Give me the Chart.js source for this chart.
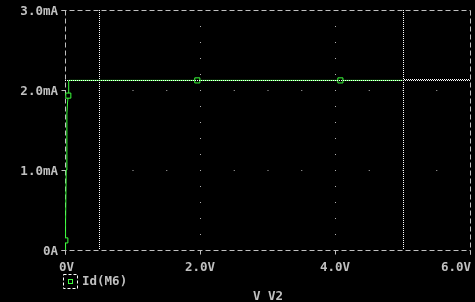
<!DOCTYPE html>
<html>
<head>
<meta charset="utf-8">
<script src="https://cdn.jsdelivr.net/npm/chart.js@4/dist/chart.umd.min.js"></script>
<style>
  html, body { margin: 0; padding: 0; background: #000; }
  canvas { display: block; }
</style>
</head>
<body>
<canvas id="probe" width="475" height="302"></canvas>
<script>
// Sweep of V_V2 (volts) and Id(M6) (mA)
const vSweep = [0.004, 0.005, 0.012, 0.018, 0.028, 0.038, 0.049, 0.055, 1.96, 4.08, 5.0];
const idM6   = [0.0,   0.12,  0.35,  1.0,   1.7,   1.85,  1.93,  2.12,  2.12, 2.12, 2.12];
const markerIdx = [1, 6, 8, 9];

const xTickValues = [0, 2, 4, 6];
const xTickLabels = ['0V', '2.0V', '4.0V', '6.0V'];
const yTickValues = [0, 1, 2, 3];
const yTickLabels = ['0A', '1.0mA', '2.0mA', '3.0mA'];

const cursorX = [0.5, 5.0];
const cursorY = 2.12;

const traceName = 'Id(M6)';
const xAxisTitle = 'V V2';

const GREY = '#c0c0c0';
const GREEN = '#3cff3c';
const FONT = 'bold 12.5px "DejaVu Sans Mono", "Liberation Mono", monospace';

function px(v) { return Math.round(v) + 0.5; }

const pspicePlugin = {
  id: 'pspice',
  beforeDraw(chart) {
    const ctx = chart.ctx;
    ctx.save();
    ctx.fillStyle = '#000';
    ctx.fillRect(0, 0, chart.width, chart.height);
    ctx.restore();
  },
  beforeDatasetsDraw(chart) {
    const { ctx, chartArea: a, scales: { x, y } } = chart;
    const L = px(a.left), R = px(a.right), T = px(a.top), B = px(a.bottom);
    ctx.save();
    ctx.strokeStyle = GREY;
    ctx.lineWidth = 1;
    // dashed frame
    ctx.setLineDash([5, 3]);
    ctx.beginPath();
    ctx.moveTo(L - 4, T); ctx.lineTo(R, T);
    ctx.moveTo(L - 4, B); ctx.lineTo(R, B);
    ctx.moveTo(L, T); ctx.lineTo(L, B + 4);
    ctx.moveTo(R, T); ctx.lineTo(R, B + 4);
    ctx.stroke();
    // tick marks
    ctx.setLineDash([]);
    ctx.beginPath();
    yTickValues.forEach(v => {
      const yy = px(y.getPixelForValue(v));
      ctx.moveTo(L - 4, yy); ctx.lineTo(L, yy);
    });
    xTickValues.forEach(v => {
      const xx = px(x.getPixelForValue(v));
      ctx.moveTo(xx, B); ctx.lineTo(xx, B + 4);
    });
    ctx.stroke();
    ctx.restore();
  },
  afterDatasetsDraw(chart) {
    const { ctx, chartArea: a, scales: { x, y } } = chart;
    ctx.save();
    ctx.strokeStyle = '#ffffff';
    ctx.lineWidth = 1;
    ctx.setLineDash([1, 1]);
    ctx.beginPath();
    cursorX.forEach(v => {
      const xx = px(x.getPixelForValue(v));
      ctx.moveTo(xx, a.top); ctx.lineTo(xx, a.bottom);
    });
    const cy = px(y.getPixelForValue(cursorY));
    ctx.moveTo(a.left, cy); ctx.lineTo(a.right, cy);
    ctx.stroke();
    // second row of the cursor past the end of the sweep
    const endX = Math.round(x.getPixelForValue(cursorX[1]));
    ctx.beginPath();
    ctx.moveTo(endX + 1, cy - 1); ctx.lineTo(a.right, cy - 1);
    ctx.stroke();
    ctx.restore();
  },
  afterDraw(chart) {
    const { ctx, chartArea: a, scales: { x, y } } = chart;
    ctx.save();
    ctx.font = FONT;
    ctx.fillStyle = GREY;
    ctx.textBaseline = 'alphabetic';

    ctx.textAlign = 'right';
    yTickValues.forEach((v, i) => {
      ctx.fillText(yTickLabels[i], a.left - 7, Math.round(y.getPixelForValue(v)) + 5);
    });

    xTickValues.forEach((v, i) => {
      const xx = x.getPixelForValue(v);
      if (i === xTickValues.length - 1) {
        ctx.textAlign = 'right';
        ctx.fillText(xTickLabels[i], xx + 1, a.bottom + 21);
      } else {
        ctx.textAlign = 'center';
        ctx.fillText(xTickLabels[i], xx + (i === 0 ? 1.5 : 0), a.bottom + 21);
      }
    });

    ctx.textAlign = 'center';
    ctx.fillText(xAxisTitle, (a.left + a.right) / 2 + 0.5, a.bottom + 50);

    // legend entry
    ctx.textAlign = 'left';
    ctx.fillText(traceName, a.left + 17, a.bottom + 35);
    ctx.strokeStyle = '#ffffff';
    ctx.lineWidth = 1;
    ctx.setLineDash([3, 2]);
    ctx.strokeRect(a.left - 1.5, a.bottom + 24.5, 14, 14);
    ctx.setLineDash([]);
    ctx.strokeStyle = GREEN;
    ctx.strokeRect(a.left + 3.5, a.bottom + 29.5, 4, 4);
    ctx.restore();
  }
};

new Chart(document.getElementById('probe').getContext('2d'), {
  type: 'scatter',
  data: {
    datasets: [{
      label: traceName,
      data: vSweep.map((v, i) => ({ x: v, y: idM6[i] })),
      showLine: true,
      borderColor: GREEN,
      borderWidth: 1,
      tension: 0,
      pointStyle: 'rect',
      pointRadius: vSweep.map((v, i) => markerIdx.includes(i) ? 3.6 : 0),
      pointBorderColor: GREEN,
      pointBackgroundColor: '#000',
      pointBorderWidth: 1,
      pointHoverRadius: 0
    }]
  },
  plugins: [pspicePlugin],
  options: {
    responsive: false,
    animation: false,
    events: [],
    layout: { padding: { left: 65, top: 10, right: 5, bottom: 52 } },
    plugins: { legend: { display: false }, tooltip: { enabled: false } },
    scales: {
      x: {
        type: 'linear', min: 0, max: 6,
        afterBuildTicks: s => { s.ticks = xTickValues.map(v => ({ value: v })); },
        ticks: { display: false },
        border: { display: false, dash: [1, 15] },
        grid: {
          drawTicks: false,
          lineWidth: 1,
          color: c => (c.tick && (c.tick.value === 0 || c.tick.value === 6)) ? 'rgba(0,0,0,0)' : '#b0b0b0'
        }
      },
      y: {
        type: 'linear', min: 0, max: 3,
        afterBuildTicks: s => { s.ticks = yTickValues.map(v => ({ value: v })); },
        ticks: { display: false },
        border: { display: false, dash: [1, 32.75] },
        grid: {
          drawTicks: false,
          lineWidth: 1,
          color: c => (c.tick && (c.tick.value === 0 || c.tick.value === 3)) ? 'rgba(0,0,0,0)' : '#b0b0b0'
        }
      }
    }
  }
});
</script>
</body>
</html>
